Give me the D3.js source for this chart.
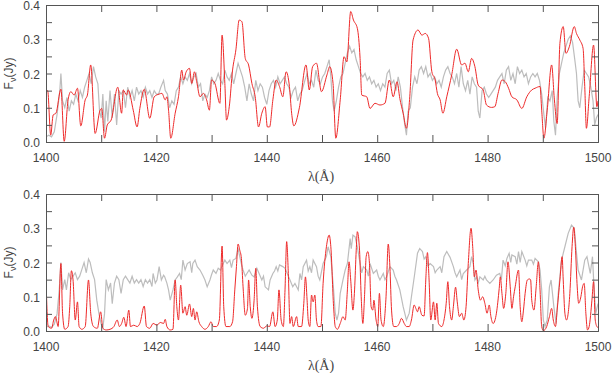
<!DOCTYPE html>
<html lang="en">
<head>
<meta charset="utf-8">
<title>Spectra</title>
<script src="https://d3js.org/d3.v7.min.js"></script>
<style>
  body { margin: 0; background: #fff; }
  svg text { font-family: "Liberation Sans", Arial, sans-serif; fill: #444; }
  svg text.xlab { font-family: "Liberation Serif", "DejaVu Serif", serif; }
</style>
</head>
<body>
<div id="container"></div>
<script>
// wavelength (A), flux (Jy)
var topRed = [[1400.0,0.147],[1400.3,0.150],[1400.85,0.020],[1401.3,0.079],[1401.8,0.084],[1402.7,0.154],[1403.3,0.002],
  [1404.0,0.123],[1404.5,0.147],[1405.1,0.137],[1405.7,0.157],[1406.3,0.047],[1407.1,0.123],[1407.5,0.137],[1408.1,0.225],
  [1408.9,0.025],[1409.8,0.093],[1410.1,0.098],[1410.6,0.011],[1411.1,0.050],[1411.8,0.064],[1413.0,0.160],[1413.7,0.084],
  [1414.0,0.152],[1414.6,0.137],[1414.9,0.152],[1415.8,0.093],[1416.5,0.044],[1417.0,0.098],[1417.8,0.154],[1418.8,0.069],
  [1419.6,0.132],[1420.5,0.140],[1421.0,0.142],[1421.6,0.123],[1421.9,0.132],[1422.2,0.093],[1422.6,0.011],[1423.4,0.084],
  [1424.0,0.132],[1424.6,0.210],[1424.9,0.181],[1425.4,0.205],[1426.0,0.215],[1426.4,0.171],[1426.9,0.205],[1427.3,0.176],
  [1427.9,0.132],[1428.5,0.142],[1429.1,0.123],[1429.6,0.093],[1430.0,0.181],[1430.6,0.171],[1431.5,0.113],[1431.9,0.312],
  [1432.4,0.171],[1432.7,0.064],[1433.2,0.103],[1433.8,0.210],[1434.4,0.269],[1435.0,0.356],[1435.5,0.351],[1436.1,0.244],
  [1436.7,0.225],[1437.3,0.171],[1437.9,0.132],[1438.5,0.044],[1439.1,0.084],[1439.7,0.103],[1440.1,0.044],[1440.5,0.044],
  [1441.1,0.123],[1441.7,0.181],[1442.3,0.162],[1442.9,0.132],[1443.5,0.205],[1444.1,0.162],[1444.5,0.084],[1444.9,0.047],
  [1445.9,0.100],[1447.1,0.225],[1447.7,0.152],[1448.3,0.220],[1449.0,0.230],[1449.9,0.147],[1450.9,0.196],[1451.4,0.220],
  [1452.0,0.171],[1452.5,0.011],[1453.3,0.123],[1454.0,0.249],[1454.5,0.234],[1455.2,0.381],[1455.7,0.356],[1456.4,0.332],
  [1456.9,0.244],[1457.2,0.137],[1458.1,0.132],[1458.7,0.098],[1459.6,0.113],[1460.5,0.108],[1461.4,0.113],[1462.2,0.181],
  [1462.9,0.132],[1463.6,0.176],[1464.1,0.127],[1464.7,0.084],[1465.3,0.040],[1465.9,0.132],[1466.5,0.298],[1467.4,0.327],
  [1468.1,0.312],[1468.7,0.317],[1469.3,0.303],[1469.9,0.205],[1470.5,0.181],[1470.9,0.142],[1471.4,0.123],[1471.9,0.084],
  [1472.6,0.132],[1473.5,0.196],[1474.4,0.271],[1475.3,0.225],[1475.9,0.230],[1476.5,0.205],[1477.1,0.244],[1477.7,0.220],
  [1478.3,0.166],[1479.2,0.152],[1479.8,0.108],[1480.7,0.101],[1481.3,0.103],[1481.9,0.142],[1482.6,0.181],[1483.2,0.176],
  [1483.8,0.157],[1484.4,0.132],[1485.3,0.123],[1486.2,0.098],[1487.1,0.132],[1488.0,0.152],[1488.6,0.157],[1489.5,0.162],
  [1489.8,0.093],[1490.2,0.011],[1490.8,0.093],[1491.6,0.225],[1492.1,0.123],[1492.6,0.054],[1493.1,0.288],[1493.7,0.337],
  [1494.2,0.259],[1494.8,0.278],[1495.7,0.337],[1496.1,0.317],[1496.7,0.298],[1497.3,0.273],[1497.6,0.162],[1497.9,0.040],
  [1498.4,0.132],[1499.2,0.283],[1499.8,0.103],[1500.0,0.120]];

var topGray = [[1400.0,0.015],[1400.5,0.02],[1401.0,0.015],[1401.5,0.03],[1402.0,0.08],[1402.5,0.15],[1402.7,0.20],[1403.0,0.12],
  [1403.4,0.10],[1403.8,0.13],[1404.2,0.09],[1404.6,0.12],[1405.0,0.11],[1405.4,0.14],[1405.8,0.12],[1406.2,0.15],[1406.6,0.13],
  [1407.0,0.16],[1407.4,0.18],[1407.8,0.20],[1408.2,0.17],[1408.6,0.22],[1409.0,0.19],[1409.4,0.17],[1409.7,0.09],[1410.0,0.07],
  [1410.3,0.14],[1410.6,0.03],[1410.9,0.12],[1411.2,0.06],[1411.6,0.15],[1412.0,0.07],[1412.4,0.14],[1412.8,0.05],[1413.2,0.15],
  [1413.6,0.14],[1414.0,0.15],[1414.4,0.10],[1414.8,0.16],[1415.2,0.13],[1415.6,0.15],[1416.0,0.12],[1416.4,0.16],[1416.8,0.14],
  [1417.2,0.15],[1417.6,0.13],[1418.0,0.16],[1418.4,0.14],[1418.8,0.15],[1419.2,0.13],[1419.6,0.15],[1420.0,0.14],[1420.4,0.14],
  [1420.8,0.16],[1421.3,0.18],[1421.6,0.15],[1422.0,0.14],[1422.4,0.10],[1422.8,0.12],[1423.2,0.11],[1423.6,0.15],[1424.0,0.16],
  [1424.4,0.19],[1424.8,0.17],[1425.2,0.19],[1425.6,0.18],[1426.0,0.20],[1426.4,0.17],[1426.8,0.19],[1427.2,0.20],[1427.6,0.16],
  [1428.0,0.17],[1428.4,0.12],[1428.8,0.14],[1429.2,0.13],[1429.6,0.15],[1430.0,0.19],[1430.4,0.17],[1430.8,0.18],[1431.2,0.20],
  [1431.6,0.18],[1432.0,0.17],[1432.4,0.21],[1432.8,0.19],[1433.2,0.18],[1433.6,0.20],[1434.0,0.17],[1434.4,0.20],[1434.8,0.23],
  [1435.2,0.21],[1435.6,0.19],[1436.0,0.16],[1436.4,0.12],[1436.8,0.17],[1437.2,0.14],[1437.6,0.12],[1438.0,0.18],[1438.4,0.15],
  [1438.8,0.17],[1439.2,0.16],[1439.6,0.13],[1440.0,0.11],[1440.4,0.15],[1440.8,0.17],[1441.2,0.18],[1441.6,0.16],[1442.0,0.19],
  [1442.4,0.17],[1442.8,0.18],[1443.2,0.19],[1443.6,0.17],[1444.0,0.16],[1444.4,0.13],[1444.8,0.15],[1445.2,0.16],[1445.6,0.12],
  [1446.0,0.14],[1446.4,0.15],[1446.9,0.18],[1447.3,0.20],[1447.7,0.17],[1448.1,0.18],[1448.5,0.16],[1448.9,0.21],[1449.3,0.18],
  [1449.7,0.17],[1450.1,0.19],[1450.5,0.20],[1450.9,0.22],[1451.3,0.24],[1451.6,0.19],[1451.9,0.12],[1452.2,0.09],[1452.6,0.12],
  [1453.0,0.16],[1453.4,0.19],[1453.8,0.20],[1454.2,0.23],[1454.6,0.26],[1455.0,0.28],[1455.4,0.26],[1455.8,0.27],[1456.2,0.24],
  [1456.6,0.22],[1457.0,0.20],[1457.4,0.19],[1457.8,0.20],[1458.2,0.18],[1458.6,0.19],[1459.0,0.17],[1459.4,0.18],[1459.8,0.16],
  [1460.2,0.17],[1460.6,0.15],[1461.0,0.17],[1461.4,0.16],[1461.8,0.20],[1462.2,0.21],[1462.6,0.17],[1463.0,0.18],[1463.4,0.15],
  [1463.8,0.19],[1464.2,0.16],[1464.6,0.10],[1465.0,0.05],[1465.3,0.02],[1465.6,0.09],[1466.0,0.10],[1466.4,0.16],[1466.8,0.19],
  [1467.2,0.17],[1467.6,0.21],[1468.0,0.22],[1468.4,0.20],[1468.8,0.22],[1469.2,0.19],[1469.6,0.20],[1470.0,0.18],[1470.4,0.19],
  [1470.8,0.17],[1471.2,0.18],[1471.6,0.16],[1472.0,0.19],[1472.4,0.21],[1472.8,0.22],[1473.2,0.20],[1473.6,0.19],[1474.0,0.17],
  [1474.4,0.20],[1474.8,0.16],[1475.2,0.22],[1475.6,0.17],[1476.0,0.15],[1476.4,0.18],[1476.8,0.14],[1477.2,0.19],[1477.6,0.17],
  [1478.0,0.16],[1478.3,0.09],[1478.6,0.07],[1479.0,0.15],[1479.4,0.16],[1479.8,0.14],[1480.2,0.13],[1480.6,0.14],[1481.0,0.15],
  [1481.4,0.16],[1481.8,0.18],[1482.2,0.19],[1482.6,0.20],[1483.0,0.17],[1483.4,0.21],[1483.8,0.22],[1484.2,0.18],[1484.6,0.20],
  [1485.0,0.17],[1485.4,0.22],[1485.8,0.20],[1486.2,0.21],[1486.6,0.19],[1487.0,0.20],[1487.4,0.17],[1487.8,0.19],[1488.2,0.20],
  [1488.6,0.19],[1489.0,0.20],[1489.4,0.18],[1489.8,0.14],[1490.2,0.08],[1490.5,0.04],[1490.9,0.13],[1491.3,0.12],[1491.7,0.15],
  [1492.0,0.06],[1492.3,0.02],[1492.6,0.13],[1493.0,0.20],[1493.4,0.23],[1493.8,0.26],[1494.2,0.28],[1494.6,0.30],[1495.0,0.31],
  [1495.4,0.29],[1495.8,0.24],[1496.1,0.20],[1496.4,0.12],[1496.7,0.10],[1497.1,0.16],[1497.5,0.21],[1497.9,0.20],[1498.3,0.19],
  [1498.7,0.16],[1499.1,0.12],[1499.4,0.05],[1499.7,0.07],[1500.0,0.08]];

var botRed = [[1400.0,0.149],[1400.4,0.013],[1401.0,0.008],[1401.4,0.032],[1401.7,0.042],[1401.9,0.032],[1402.2,0.013],[1402.7,0.197],
  [1403.0,0.052],[1403.4,0.005],[1404.0,0.013],[1404.3,0.071],[1404.6,0.176],[1404.9,0.149],[1405.3,0.032],[1405.7,0.085],
  [1406.0,0.013],[1406.5,0.005],[1407.1,0.013],[1407.7,0.149],[1408.1,0.052],[1408.6,0.013],[1409.3,0.008],[1409.9,0.056],
  [1410.3,0.008],[1410.9,0.003],[1411.6,0.005],[1412.3,0.013],[1412.9,0.032],[1413.3,0.013],[1413.7,0.022],[1414.1,0.040],
  [1414.5,0.013],[1415.0,0.061],[1415.3,0.013],[1415.9,0.017],[1416.5,0.013],[1417.0,0.022],[1417.8,0.073],[1418.2,0.013],
  [1418.8,0.008],[1419.4,0.022],[1420.1,0.017],[1420.7,0.025],[1421.3,0.022],[1421.6,0.034],[1421.9,0.013],[1422.5,0.003],
  [1423.0,0.005],[1423.4,0.149],[1423.7,0.071],[1424.0,0.032],[1424.4,0.134],[1424.8,0.052],[1425.2,0.071],[1425.5,0.046],
  [1426.0,0.079],[1426.4,0.042],[1426.7,0.066],[1427.0,0.032],[1427.3,0.056],[1427.7,0.027],[1428.2,0.013],[1428.8,0.005],
  [1429.4,0.013],[1429.9,0.027],[1430.3,0.013],[1430.9,0.013],[1431.4,0.032],[1431.9,0.248],[1432.2,0.071],[1432.6,0.013],
  [1433.3,0.013],[1433.8,0.027],[1434.2,0.120],[1434.5,0.188],[1434.8,0.254],[1435.1,0.236],[1435.4,0.212],[1435.7,0.129],
  [1436.1,0.046],[1436.5,0.066],[1436.7,0.149],[1437.0,0.071],[1437.3,0.037],[1437.7,0.090],[1438.0,0.183],[1438.3,0.071],
  [1438.8,0.013],[1439.4,0.008],[1440.0,0.015],[1440.5,0.013],[1441.1,0.056],[1441.5,0.013],[1441.9,0.032],[1442.2,0.120],
  [1442.6,0.032],[1443.0,0.013],[1443.3,0.120],[1443.6,0.261],[1443.9,0.168],[1444.2,0.022],[1444.5,0.042],[1444.8,0.013],
  [1445.4,0.042],[1445.7,0.013],[1446.3,0.013],[1446.7,0.080],[1447.0,0.158],[1447.3,0.090],[1447.5,0.032],[1447.8,0.013],
  [1448.1,0.105],[1448.4,0.085],[1448.7,0.105],[1449.0,0.032],[1449.3,0.013],[1449.8,0.013],[1450.2,0.139],[1450.8,0.246],
  [1451.3,0.280],[1451.6,0.246],[1452.1,0.071],[1452.4,0.013],[1452.8,0.005],[1453.3,0.022],[1453.8,0.042],[1454.2,0.032],
  [1454.6,0.120],[1454.9,0.202],[1455.2,0.149],[1455.6,0.061],[1455.9,0.120],[1456.2,0.236],[1456.4,0.290],[1456.8,0.236],
  [1457.1,0.100],[1457.4,0.022],[1457.7,0.100],[1458.0,0.217],[1458.3,0.232],[1458.6,0.197],[1458.9,0.071],[1459.2,0.061],
  [1459.4,0.090],[1459.8,0.032],[1460.1,0.013],[1460.4,0.110],[1460.7,0.032],[1461.1,0.013],[1461.6,0.100],[1462.0,0.254],
  [1462.3,0.188],[1462.6,0.061],[1463.0,0.013],[1463.5,0.013],[1464.0,0.022],[1464.4,0.037],[1464.9,0.022],[1465.3,0.013],
  [1465.8,0.013],[1466.2,0.032],[1466.7,0.076],[1467.0,0.066],[1467.3,0.056],[1467.6,0.071],[1468.1,0.046],[1468.5,0.044],
  [1468.8,0.149],[1469.1,0.229],[1469.4,0.149],[1469.7,0.032],[1470.2,0.085],[1470.5,0.032],[1470.8,0.081],[1471.1,0.022],
  [1471.7,0.013],[1472.1,0.032],[1472.5,0.081],[1472.8,0.144],[1473.1,0.071],[1473.5,0.032],[1473.8,0.071],[1474.2,0.128],
  [1474.5,0.085],[1474.9,0.042],[1475.3,0.052],[1475.7,0.032],[1476.1,0.071],[1476.5,0.197],[1477.0,0.300],[1477.3,0.246],
  [1477.6,0.158],[1477.9,0.178],[1478.3,0.120],[1478.7,0.090],[1479.1,0.100],[1479.5,0.081],[1479.9,0.052],[1480.3,0.076],
  [1480.6,0.042],[1481.0,0.022],[1481.6,0.052],[1482.1,0.124],[1482.3,0.158],[1482.6,0.110],[1482.9,0.066],[1483.3,0.110],
  [1483.7,0.202],[1484.1,0.129],[1484.4,0.066],[1484.7,0.100],[1485.0,0.129],[1485.6,0.178],[1485.9,0.071],[1486.2,0.027],
  [1486.5,0.061],[1486.8,0.110],[1487.2,0.149],[1487.6,0.152],[1487.8,0.149],[1488.0,0.090],[1488.4,0.061],[1488.8,0.129],
  [1489.2,0.202],[1489.5,0.120],[1489.8,0.013],[1490.1,0.001],[1490.7,0.013],[1491.2,0.042],[1491.6,0.066],[1491.9,0.032],
  [1492.3,0.013],[1492.6,0.061],[1493.1,0.149],[1493.5,0.217],[1493.7,0.149],[1494.0,0.052],[1494.3,0.032],[1494.6,0.052],
  [1494.9,0.110],[1495.3,0.246],[1495.6,0.303],[1495.9,0.246],[1496.2,0.139],[1496.5,0.081],[1496.9,0.100],[1497.2,0.129],
  [1497.5,0.139],[1497.8,0.052],[1498.1,0.003],[1498.4,0.013],[1498.9,0.090],[1499.2,0.144],[1499.5,0.032],[1499.8,0.013],
  [1500.0,0.010]];

var botGray = [[1400.0,0.010],[1400.5,0.015],[1401.0,0.010],[1401.5,0.020],[1402.0,0.050],[1402.4,0.120],[1402.7,0.200],[1403.0,0.120],
  [1403.4,0.150],[1403.7,0.120],[1404.1,0.170],[1404.5,0.150],[1404.9,0.160],[1405.3,0.170],[1405.7,0.150],[1406.1,0.160],
  [1406.5,0.180],[1406.9,0.200],[1407.3,0.170],[1407.7,0.210],[1408.0,0.200],[1408.4,0.170],[1408.8,0.150],[1409.2,0.090],
  [1409.6,0.050],[1410.0,0.020],[1410.3,0.010],[1410.6,0.050],[1410.9,0.150],[1411.3,0.120],[1411.7,0.140],[1412.0,0.080],
  [1412.4,0.140],[1412.8,0.160],[1413.2,0.150],[1413.6,0.110],[1414.0,0.150],[1414.4,0.160],[1414.8,0.150],[1415.2,0.140],
  [1415.6,0.160],[1416.0,0.140],[1416.4,0.150],[1416.8,0.140],[1417.2,0.150],[1417.6,0.130],[1418.0,0.150],[1418.4,0.140],
  [1418.8,0.150],[1419.2,0.130],[1419.4,0.168],[1419.8,0.140],[1420.1,0.149],[1420.5,0.188],[1420.9,0.149],[1421.3,0.163],
  [1421.5,0.158],[1421.9,0.140],[1422.2,0.120],[1422.5,0.090],[1423.0,0.120],[1423.4,0.149],[1423.8,0.158],[1424.2,0.168],
  [1424.5,0.150],[1424.8,0.207],[1425.2,0.178],[1425.6,0.197],[1426.1,0.202],[1426.4,0.170],[1426.6,0.197],[1427.0,0.207],
  [1427.4,0.188],[1427.9,0.178],[1428.4,0.163],[1428.8,0.149],[1429.2,0.129],[1429.7,0.149],[1430.0,0.165],[1430.3,0.178],
  [1430.8,0.168],[1431.2,0.183],[1431.6,0.178],[1432.0,0.193],[1432.4,0.207],[1432.8,0.197],[1433.3,0.207],[1433.6,0.185],
  [1433.9,0.207],[1434.4,0.212],[1434.8,0.241],[1435.1,0.217],[1435.4,0.195],[1435.7,0.178],[1436.1,0.160],[1436.4,0.168],
  [1436.8,0.178],[1437.3,0.163],[1437.7,0.158],[1438.2,0.183],[1438.6,0.168],[1439.1,0.149],[1439.4,0.160],[1439.7,0.129],
  [1440.3,0.120],[1440.6,0.149],[1441.1,0.168],[1441.4,0.175],[1441.7,0.188],[1442.0,0.175],[1442.3,0.193],[1442.9,0.188],
  [1443.3,0.183],[1443.7,0.168],[1444.2,0.149],[1444.7,0.129],[1445.1,0.139],[1445.7,0.120],[1446.0,0.168],[1446.3,0.149],
  [1446.6,0.188],[1447.2,0.207],[1447.5,0.175],[1447.8,0.188],[1448.1,0.170],[1448.4,0.207],[1449.0,0.188],[1449.3,0.160],
  [1449.6,0.149],[1450.2,0.197],[1450.8,0.217],[1451.1,0.246],[1451.6,0.217],[1452.1,0.120],[1452.4,0.052],[1452.7,0.032],
  [1453.0,0.052],[1453.3,0.110],[1453.8,0.149],[1454.2,0.178],[1454.6,0.197],[1455.1,0.270],[1455.3,0.240],[1455.6,0.280],
  [1456.0,0.275],[1456.4,0.246],[1456.9,0.197],[1457.2,0.170],[1457.5,0.188],[1458.1,0.178],[1458.4,0.160],[1458.7,0.197],
  [1459.3,0.168],[1459.9,0.178],[1460.2,0.160],[1460.5,0.149],[1461.1,0.168],[1461.4,0.150],[1461.7,0.158],[1462.3,0.188],
  [1462.9,0.178],[1463.2,0.160],[1463.5,0.149],[1464.1,0.120],[1464.7,0.071],[1465.3,0.032],[1465.8,0.052],[1466.2,0.100],
  [1466.8,0.168],[1467.3,0.227],[1467.7,0.241],[1468.2,0.232],[1468.5,0.210],[1468.8,0.217],[1469.2,0.190],[1469.6,0.197],
  [1470.2,0.188],[1470.5,0.170],[1470.8,0.178],[1471.4,0.188],[1471.7,0.170],[1472.1,0.217],[1472.6,0.232],[1473.2,0.215],
  [1473.8,0.188],[1474.1,0.170],[1474.4,0.158],[1475.0,0.178],[1475.3,0.150],[1475.6,0.168],[1476.2,0.178],[1476.8,0.188],
  [1477.1,0.217],[1477.4,0.197],[1477.7,0.149],[1478.0,0.158],[1478.3,0.140],[1478.6,0.158],[1479.2,0.149],[1479.5,0.160],
  [1479.8,0.149],[1480.4,0.139],[1481.0,0.149],[1481.6,0.163],[1482.2,0.168],[1482.5,0.150],[1482.8,0.207],[1483.2,0.190],
  [1483.5,0.212],[1483.9,0.227],[1484.2,0.200],[1484.4,0.222],[1485.0,0.217],[1485.3,0.195],[1485.6,0.232],[1485.9,0.200],
  [1486.2,0.232],[1486.8,0.207],[1487.1,0.190],[1487.4,0.207],[1488.0,0.207],[1488.3,0.195],[1488.6,0.212],[1489.2,0.202],
  [1489.5,0.178],[1489.8,0.120],[1490.1,0.032],[1490.4,0.013],[1490.8,0.032],[1491.2,0.129],[1491.5,0.149],[1492.0,0.071],
  [1492.4,0.022],[1492.8,0.110],[1493.4,0.207],[1494.0,0.246],[1494.6,0.285],[1495.2,0.309],[1495.7,0.300],[1496.0,0.246],
  [1496.4,0.178],[1497.0,0.149],[1497.6,0.207],[1498.0,0.217],[1498.6,0.168],[1499.0,0.217],[1499.3,0.120],[1499.6,0.052],
  [1500.0,0.080]];

var xTicks = [1400, 1410, 1420, 1430, 1440, 1450, 1460, 1470, 1480, 1490, 1500];
var xTickLabels = [1400, 1420, 1440, 1460, 1480, 1500];
var yTicks = [0, 0.05, 0.1, 0.15, 0.2, 0.25, 0.3, 0.35, 0.4];
var yTickLabels = [0, 0.1, 0.2, 0.3, 0.4];

var W = 613, H = 373;
var left = 46, right = 598;

var svg = d3.select("#container").append("svg")
  .attr("width", W).attr("height", H);

var x = d3.scaleLinear().domain([1400, 1500]).range([left, right]);

function panel(top, bottom, redData, grayData, id) {
  var y = d3.scaleLinear().domain([0, 0.4]).range([bottom, top]);
  var g = svg.append("g");

  g.append("clipPath").attr("id", "clip" + id)
    .append("rect").attr("x", left).attr("y", top)
    .attr("width", right - left).attr("height", bottom - top);

  var line = d3.line().x(function(d) { return x(d[0]); }).y(function(d) { return y(d[1]); });

  g.append("path").datum(grayData)
    .attr("clip-path", "url(#clip" + id + ")")
    .attr("fill", "none").attr("stroke", "#bdbdbd").attr("stroke-width", 1.2)
    .attr("d", line);

  g.append("path").datum(redData)
    .attr("clip-path", "url(#clip" + id + ")")
    .attr("fill", "none").attr("stroke", "#ee2a2a").attr("stroke-width", 1)
    .attr("d", line.curve(d3.curveMonotoneX));

  // axes: ticks inward on all sides
  var axB = d3.axisBottom(x).tickValues(xTicks).tickSize(-7).tickFormat("");
  var axT = d3.axisTop(x).tickValues(xTicks).tickSize(-7).tickFormat("");
  var axL = d3.axisLeft(y).tickValues(yTicks).tickSize(-6).tickFormat("");
  var axR = d3.axisRight(y).tickValues(yTicks).tickSize(-6).tickFormat("");

  [[axB, "translate(0," + bottom + ")"], [axT, "translate(0," + top + ")"],
   [axL, "translate(" + left + ",0)"], [axR, "translate(" + right + ",0)"]].forEach(function(a) {
    var ag = g.append("g").attr("transform", a[1]).call(a[0]);
    ag.selectAll("path,line").attr("stroke", "#555").attr("stroke-width", 1);
  });

  g.selectAll(".xl").data(xTickLabels).enter().append("text")
    .attr("x", function(d) { return x(d); }).attr("y", bottom + 20)
    .attr("text-anchor", "middle").attr("font-size", 12)
    .text(function(d) { return d; });

  g.selectAll(".yl").data(yTickLabels).enter().append("text")
    .attr("x", left - 6).attr("y", function(d) { return y(d) + 5; })
    .attr("text-anchor", "end").attr("font-size", 12)
    .text(function(d) { return d3.format(".1f")(d); });

  g.append("text").attr("class", "xlab").attr("x", 321).attr("y", bottom + 39)
    .attr("text-anchor", "middle").attr("font-size", 14)
    .text("λ(Å)");

  var yl = g.append("text")
    .attr("transform", "translate(13," + ((top + bottom) / 2) + ") rotate(-90)")
    .attr("text-anchor", "middle").attr("font-size", 12);
  yl.append("tspan").text("F");
  yl.append("tspan").attr("font-size", 9).attr("dy", 3).text("ν");
  yl.append("tspan").attr("dy", -3).text("(Jy)");
}

panel(5, 142, topRed, topGray, 1);
panel(194, 331, botRed, botGray, 2);
</script>
</body>
</html>
